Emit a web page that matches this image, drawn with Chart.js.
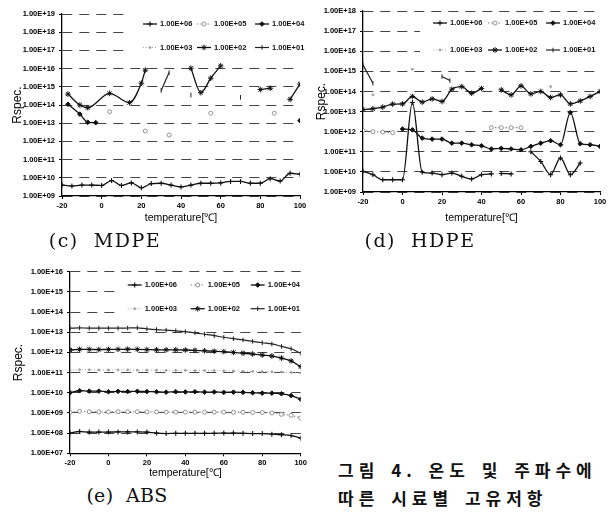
<!DOCTYPE html>
<html><head><meta charset="utf-8">
<script src="https://cdn.jsdelivr.net/npm/chart.js@4.4.1/dist/chart.umd.min.js"></script>
<style>
html,body{margin:0;padding:0;background:#fff;width:611px;height:519px;overflow:hidden;position:relative}
canvas{position:absolute;display:block}
.cap{position:absolute;font-family:'DejaVu Serif','Liberation Serif',serif;font-size:19px;line-height:20px;color:#111;white-space:nowrap;transform:translateX(-50%);letter-spacing:1.5px}
.kr{position:absolute;left:338px;font-family:'Noto Sans CJK KR',sans-serif;font-weight:bold;font-size:17px;line-height:20px;letter-spacing:5px;word-spacing:3px;color:#111;white-space:nowrap}
</style></head><body>
<canvas id="cMDPE" width="310" height="228" style="left:0;top:0"></canvas>
<canvas id="cHDPE" width="306" height="228" style="left:305px;top:0"></canvas>
<canvas id="cABS" width="310" height="233" style="left:0;top:250px"></canvas>
<div class="cap" style="left:105px;top:230px">(c)&nbsp; MDPE</div>
<div class="cap" style="left:420px;top:230px">(d)&nbsp; HDPE</div>
<div class="cap" style="left:127px;top:485px;letter-spacing:0.3px">(e)&nbsp; ABS</div>
<div class="kr" style="top:460px">그림 4. 온도 및 주파수에</div>
<div class="kr" style="top:488px">따른 시료별 고유저항</div>
<script>
// ---------- DATA (log10 of Rspec) ----------
const TEMPS = [-20,-15,-10,-5,0,5,10,15,20,25,30,35,40,45,50,55,60,65,70,75,80,85,90,95,100];
const X_TICKS = [-20,0,20,40,60,80,100];
const SERIES_LABELS = ['1.00E+06','1.00E+05','1.00E+04','1.00E+03','1.00E+02','1.00E+01'];

// (c) MDPE
const mdpe_e6_t = TEMPS;
const mdpe_e6 = [9.6,9.55,9.6,9.6,9.58,9.85,9.58,9.72,9.45,9.68,9.7,9.6,9.5,9.6,9.7,9.7,9.72,9.8,9.8,9.7,9.7,9.95,9.82,10.25,10.2];
const mdpe_e5_t = [4,22,34,55,87];
const mdpe_e5 = [13.63,12.57,12.35,13.55,13.55];
const mdpe_e4_t = [-17,-11,-7,-3,50,100];
const mdpe_e4 = [14.04,13.5,13.05,13.03,null,13.14];
const mdpe_e3_t = [];
const mdpe_e3 = [];
const mdpe_e2_t = [-17,-11,-7,4,14,20,22,33,45,50,55,60,70,80,85,90,95,100];
const mdpe_e2 = [14.6,14.0,13.85,14.64,14.13,15.2,15.92,null,16.02,14.68,15.47,16.15,null,14.85,14.92,null,14.31,15.15];
const mdpe_e1_t = [30,34,40,45,60,70];
const mdpe_e1 = [14.8,15.78,null,14.55,null,14.42];

// (d) HDPE
const hdpe_e6_t = [-20,-15,-10,-5,0,5,10,15,20,25,30,35,40,45,47.5,50,55,60,65,70,75,80,85,90];
const hdpe_e6 = [10.03,9.86,9.61,9.61,9.61,13.45,9.98,9.94,9.86,9.94,9.78,9.65,9.86,9.9,null,9.92,9.9,null,11.0,10.52,9.86,10.69,9.86,10.44];
const hdpe_e5_t = [-20,-15,-10,-5,20,45,50,55,60];
const hdpe_e5 = [12.06,12.0,11.98,11.95,null,12.2,12.2,12.2,12.2];
const hdpe_e4_t = [0,5,10,15,20,25,30,35,40,45,50,55,60,65,70,75,80,85,90,95,100];
const hdpe_e4 = [12.13,12.09,11.68,11.63,11.63,11.43,11.43,11.35,11.3,11.14,11.17,11.14,11.1,11.27,11.43,11.55,11.35,12.95,11.4,11.35,11.27];
const hdpe_e3_t = [-15,5,75];
const hdpe_e3 = [13.83,15.1,14.24];
const hdpe_e2_t = TEMPS;
const hdpe_e2 = [13.1,13.14,13.22,13.37,13.38,13.75,13.47,13.63,13.5,14.11,14.24,13.91,14.15,null,14.08,13.83,14.28,13.88,14.0,13.7,13.83,13.38,13.53,13.75,14.0];
const hdpe_e1_t = [-20,-15,0,20,24];
const hdpe_e1 = [15.32,14.41,null,14.74,14.54];

// (e) ABS
const abs_t = TEMPS;
const abs_e6 = [8.0,8.08,8.05,8.05,8.05,8.06,8.06,8.06,8.05,8.0,7.98,7.99,7.99,7.99,7.99,7.99,8.0,8.0,7.99,7.98,7.98,7.95,7.92,7.88,7.75];
const abs_e5 = [9.03,9.08,9.06,9.05,9.05,9.06,9.06,9.06,9.05,9.05,9.04,9.04,9.04,9.04,9.04,9.04,9.04,9.03,9.03,9.02,9.02,9.0,8.93,8.88,8.75];
const abs_e4 = [10.0,10.1,10.08,10.08,10.05,10.07,10.06,10.07,10.06,10.05,10.03,10.05,10.04,10.05,10.03,10.04,10.02,10.03,10.02,10.0,9.98,9.98,9.95,9.86,9.68];
const abs_e3 = [11.12,11.14,11.14,11.13,11.13,11.13,11.13,11.12,11.12,11.12,11.11,11.11,11.11,11.1,11.1,11.1,11.09,11.08,11.07,11.06,11.05,11.04,11.03,11.01,10.98];
const abs_e2 = [12.12,12.15,12.15,12.14,12.15,12.15,12.16,12.15,12.14,12.13,12.13,12.13,12.12,12.1,12.08,12.06,12.04,12.0,11.96,11.92,11.87,11.82,11.72,11.58,11.29];
const abs_e1 = [13.2,13.22,13.2,13.2,13.2,13.2,13.21,13.22,13.17,13.13,13.1,13.07,13.03,12.97,12.9,12.83,12.75,12.68,12.62,12.55,12.48,12.42,12.3,12.18,11.96];

// ---------- helpers ----------
function pts(t, lg){ return t.map((x,i)=>({x:x, y: lg[i]==null ? null : Math.pow(10, lg[i])})); }
const STY = [
  {borderColor:'#111', borderWidth:1.3, borderDash:[], pointStyle:'cross', pointRadius:2.5, pointBackgroundColor:'#111', pointBorderColor:'#111', pointBorderWidth:1.1},
  {borderColor:'#888', borderWidth:1.1, borderDash:[1.5,2], pointStyle:'circle', pointRadius:2, pointBackgroundColor:'#fff', pointBorderColor:'#888', pointBorderWidth:0.9},
  {borderColor:'#111', borderWidth:1.3, borderDash:[], pointStyle:'rectRot', pointRadius:2.3, pointBackgroundColor:'#111', pointBorderColor:'#111', pointBorderWidth:1},
  {borderColor:'#aaa', borderWidth:1, borderDash:[1,2], pointStyle:'circle', pointRadius:1, pointBackgroundColor:'#999', pointBorderColor:'#999', pointBorderWidth:0.8},
  {borderColor:'#111', borderWidth:1.3, borderDash:[], pointStyle:'star', pointRadius:2.8, pointBackgroundColor:'#111', pointBorderColor:'#111', pointBorderWidth:1},
  {borderColor:'#222', borderWidth:1.2, borderDash:[], pointStyle:'line', pointRotation:90, pointRadius:2.3, pointBackgroundColor:'#222', pointBorderColor:'#222', pointBorderWidth:1}
];
function makeSets(list, showLine){
  return list.map((d,i)=>Object.assign({label:SERIES_LABELS[i], data:pts(d[0],d[1]), showLine: showLine ? showLine[i] : true, spanGaps:false}, STY[i]));
}
function fmtExp(v){ const e=Math.round(Math.log10(v)); return '1.00E+'+(e<10?'0':'')+e; }
const TICKFONT = {family:"'Liberation Sans Narrow','Arial Narrow','Liberation Sans',Arial,sans-serif", size:7.5, weight:'bold'};
const TITLEFONT = {family:"'Liberation Sans',Arial,sans-serif", size:10.5};
const YTITLEFONT = {family:"'Liberation Sans',Arial,sans-serif", size:12};

const legendPlugin = {
  id:'miniLegend',
  beforeDatasetsDraw(chart){
    const o = chart.options.plugins.miniLegend; if(!o) return;
    const {ctx, chartArea:a} = chart;
    ctx.save();
    ctx.fillStyle = '#fff';
    ctx.fillRect(a.right + o.boxX, a.top + o.boxY[0], -o.boxX + 2, o.boxY[1]-o.boxY[0]);
    ctx.font = "bold 7.5px 'Liberation Sans Narrow','Arial Narrow',Arial,sans-serif";
    ctx.textBaseline = 'middle'; ctx.textAlign = 'left';
    chart.data.datasets.forEach((ds,i)=>{
      const row = Math.floor(i/3), col = i%3;
      const y = a.top + o.rows[row];
      const tx = a.right + o.textX[col];
      const sx0 = tx - 17, sx1 = tx - 3;
      ctx.save();
      ctx.strokeStyle = ds.borderColor; ctx.lineWidth = ds.borderWidth; ctx.setLineDash(ds.borderDash||[]);
      ctx.beginPath(); ctx.moveTo(sx0,y); ctx.lineTo(sx1,y); ctx.stroke();
      ctx.setLineDash([]);
      ctx.fillStyle = ds.pointBackgroundColor; ctx.strokeStyle = ds.pointBorderColor; ctx.lineWidth = ds.pointBorderWidth;
      if (Chart.helpers && Chart.helpers.drawPoint) {
        Chart.helpers.drawPoint(ctx, {pointStyle:ds.pointStyle, radius:ds.pointRadius, borderWidth:ds.pointBorderWidth, rotation:ds.pointRotation||0}, (sx0+sx1)/2, y);
      }
      ctx.restore();
      ctx.fillStyle = '#111';
      ctx.fillText(ds.label, tx, y);
    });
    ctx.restore();
  }
};

function makeChart(id, cfg){
  const decades = [];
  for (let e=cfg.minE; e<=cfg.maxE; e++) decades.push(Math.pow(10,e));
  return new Chart(document.getElementById(id), {
    type:'line',
    data:{datasets:cfg.datasets},
    options:{
      responsive:false, animation:false, devicePixelRatio:1,
      layout:{padding:{left:cfg.padL, top:cfg.padT, right:cfg.padR, bottom:0}},
      elements:{line:{tension:0.3, cubicInterpolationMode:'monotone'}},
      plugins:{legend:{display:false}, tooltip:{enabled:false}, miniLegend:cfg.legend},
      scales:{
        x:{type:'linear', min:-20, max:100,
          afterBuildTicks:s=>{ s.ticks = X_TICKS.map(v=>({value:v})); },
          ticks:{font:TICKFONT, color:'#000', padding:2, maxRotation:0, autoSkip:false, callback:v=>String(v)},
          grid:{display:true, drawOnChartArea:false, drawTicks:true, tickLength:3, color:'#000', lineWidth:1},
          border:{display:true, color:'#000', width:1.3},
          title:{display:true, text:'temperature[℃]', font:TITLEFONT, color:'#000', padding:{top:0,bottom:4}},
          afterFit:s=>{ s.height = cfg.xH; }
        },
        y:{type:'logarithmic', min:decades[0], max:decades[decades.length-1],
          afterBuildTicks:s=>{ s.ticks = decades.map(v=>({value:v})); },
          ticks:{font:TICKFONT, color:'#000', padding:4, autoSkip:false, callback:v=>fmtExp(v)},
          grid:{display:true, color:'#444', lineWidth:1, drawTicks:true, tickLength:3, tickColor:'#000'},
          border:{display:true, color:'#000', width:1.3, dash:[10,7]},
          title:{display:true, text:'Rspec.', font:YTITLEFONT, color:'#000', padding:{top:0,bottom:0}},
          afterFit:s=>{ s.width = cfg.yW; }
        }
      }
    },
    plugins:[legendPlugin]
  });
}

makeChart('cMDPE', {
  minE:9, maxE:19, padL:10, padT:14, padR:10, yW:52, xH:32,
  legend:{rows:[10,33.5], textX:[-140,-86,-28], boxX:-170, boxY:[-4,44]},
  datasets: makeSets([
    [mdpe_e6_t, mdpe_e6],[mdpe_e5_t, mdpe_e5],[mdpe_e4_t, mdpe_e4],
    [mdpe_e3_t, mdpe_e3],[mdpe_e2_t, mdpe_e2],[mdpe_e1_t, mdpe_e1]
  ], [true,false,true,true,true,true])
});
makeChart('cHDPE', {
  minE:9, maxE:18, padL:9, padT:11, padR:11, yW:49, xH:36,
  legend:{rows:[12,39], textX:[-150,-95,-37], boxX:-180, boxY:[3,47]},
  datasets: makeSets([
    [hdpe_e6_t, hdpe_e6],[hdpe_e5_t, hdpe_e5],[hdpe_e4_t, hdpe_e4],
    [hdpe_e3_t, hdpe_e3],[hdpe_e2_t, hdpe_e2],[hdpe_e1_t, hdpe_e1]
  ], [true,true,true,false,true,true])
});
makeChart('cABS', {
  minE:7, maxE:16, padL:11, padT:21.7, padR:9.3, yW:59, xH:29.7,
  legend:{rows:[13.3,37], textX:[-156,-93,-33], boxX:-181, boxY:[4,48]},
  datasets: makeSets([
    [abs_t, abs_e6],[abs_t, abs_e5],[abs_t, abs_e4],
    [abs_t, abs_e3],[abs_t, abs_e2],[abs_t, abs_e1]
  ])
});
</script>
</body></html>
